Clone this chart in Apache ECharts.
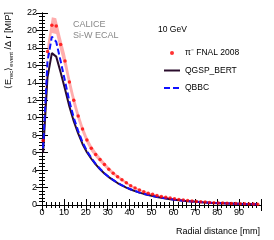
<!DOCTYPE html>
<html><head><meta charset="utf-8">
<script src="https://cdn.jsdelivr.net/npm/echarts@6/dist/echarts.min.js"></script>
<style>html,body{margin:0;padding:0;background:#fff}#c{width:274px;height:240px}</style>
</head><body><div id="c"></div>
<script>
// Radial distance bin centres [mm]
const radius = [0.5,2.5,4.5,6.5,8.5,10.5,12.5,14.5,16.5,18.5,20.5,22.5,24.5,26.5,28.5,30.5,32.5,34.5,36.5,38.5,40.5,42.5,44.5,46.5,48.5,50.5,52.5,54.5,56.5,58.5,60.5,62.5,64.5,66.5,68.5,70.5,72.5,74.5,76.5,78.5,80.5,82.5,84.5,86.5,88.5,90.5,92.5,94.5,96.5,98.5];
// pi- FNAL 2008 data
const dataFNAL = [7.4,17.6,20.6,20.5,18.4,16.5,14.1,12.0,10.2,8.7,7.45,6.5,5.8,5.2,4.65,4.1,3.65,3.25,2.9,2.55,2.2,1.95,1.72,1.52,1.36,1.22,1.09,0.98,0.9,0.8,0.72,0.64,0.57,0.51,0.46,0.41,0.37,0.33,0.3,0.27,0.24,0.22,0.2,0.18,0.16,0.15,0.13,0.12,0.11,0.1];
const errFNAL = [0.5,0.85,0.9,0.9,0.88,0.82,0.74,0.65,0.56,0.49,0.43,0.38,0.34,0.3,0.27,0.24,0.21,0.19,0.17,0.15,0.13,0.12,0.11,0.1,0.09,0.08,0.07,0.065,0.06,0.055,0.05,0.045,0.04,0.04,0.035,0.03,0.03,0.03,0.025,0.025,0.02,0.02,0.02,0.02,0.02,0.02,0.02,0.02,0.02,0.02];
// Geant4 physics lists
const qgspBert = [6.0,14.6,17.4,17.0,15.2,13.3,11.3,9.6,8.2,7.0,6.05,5.3,4.65,4.1,3.6,3.2,2.85,2.52,2.24,2.0,1.78,1.59,1.42,1.27,1.14,1.02,0.92,0.83,0.75,0.67,0.6,0.54,0.49,0.44,0.4,0.36,0.32,0.29,0.26,0.24,0.21,0.19,0.17,0.16,0.14,0.13,0.12,0.11,0.1,0.09];
const qbbc = [6.5,16.4,19.3,18.7,16.5,14.2,11.9,10.0,8.5,7.2,6.2,5.4,4.72,4.15,3.65,3.22,2.87,2.54,2.26,2.02,1.8,1.61,1.44,1.29,1.16,1.04,0.93,0.84,0.76,0.68,0.61,0.55,0.5,0.45,0.41,0.37,0.33,0.3,0.27,0.24,0.22,0.2,0.18,0.16,0.15,0.13,0.12,0.11,0.1,0.09];
const xTicks = [0,10,20,30,40,50,60,70,80,90];
const yTicks = [0,2,4,6,8,10,12,14,16,18,20,22];
const seriesNames = ['\u03c0\u207b FNAL 2008','QGSP_BERT','QBBC'];

const FONT = '"Liberation Sans", Arial, Helvetica, sans-serif';
const pair = (xs, ys) => xs.map((x, i) => [x, ys[i]]);

const tickCommon = {
  axisLine: {show: true, lineStyle: {color: '#000', width: 1}},
  axisTick: {show: true, inside: true, length: 6, lineStyle: {color: '#000'}},
  minorTick: {show: true, splitNumber: 5, length: 3, lineStyle: {color: '#000'}},
  splitLine: {show: false}, minorSplitLine: {show: false}
};

function renderBand(params, api) {
  if (params.dataIndex !== 0) return;
  const pts = [];
  for (let i = 0; i < radius.length; i++) pts.push(api.coord([radius[i], dataFNAL[i] + errFNAL[i]]));
  for (let i = radius.length - 1; i >= 0; i--) pts.push(api.coord([radius[i], dataFNAL[i] - errFNAL[i]]));
  return {type: 'polygon', shape: {points: pts}, style: {fill: 'rgba(255,60,60,0.42)'},
    clipPath: {type: 'rect', shape: {x: params.coordSys.x, y: params.coordSys.y,
      width: params.coordSys.width, height: params.coordSys.height}}};
}

const chart = echarts.init(document.getElementById('c'), null, {renderer: 'canvas'});
chart.setOption({
  animation: false,
  backgroundColor: '#fff',
  grid: {left: 42, right: 13, top: 13, bottom: 35},
  xAxis: [
    Object.assign({type: 'value', min: 0, max: 100, interval: 10, position: 'bottom',
      axisLabel: {fontFamily: FONT, fontSize: 9, color: '#000', margin: 3,
        formatter: v => xTicks.indexOf(v) >= 0 ? String(v) : ''}}, tickCommon),
    Object.assign({type: 'value', min: 0, max: 100, interval: 10, position: 'top',
      axisLabel: {show: false}}, tickCommon)
  ],
  yAxis: [
    Object.assign({type: 'value', min: 0, max: 22, interval: 2, position: 'left',
      axisLabel: {fontFamily: FONT, fontSize: 9, color: '#000', margin: 5,
        formatter: v => yTicks.indexOf(v) >= 0 ? String(v) : ''}}, tickCommon),
    Object.assign({type: 'value', min: 0, max: 22, interval: 2, position: 'right',
      axisLabel: {show: false}}, tickCommon)
  ],
  legend: {
    data: [
      {name: seriesNames[0]},
      {name: seriesNames[1], itemStyle: {opacity: 0}},
      {name: seriesNames[2], itemStyle: {opacity: 0}}
    ],
    orient: 'vertical', left: 158, top: 43,
    itemWidth: 16, itemHeight: 4, itemGap: 7.5,
    textStyle: {fontFamily: FONT, fontSize: 8.5, color: '#000', lineHeight: 10}
  },
  series: [
    {name: 'band', type: 'custom', renderItem: renderBand, data: [[radius[0], dataFNAL[0]]], silent: true, z: 1},
    {name: seriesNames[1], type: 'line', data: pair(radius, qgspBert), symbol: 'none', z: 2,
      lineStyle: {color: '#2a0c2c', width: 2}, itemStyle: {color: '#2a0c2c'}},
    {name: seriesNames[2], type: 'line', data: pair(radius, qbbc), symbol: 'none', z: 3,
      lineStyle: {color: '#1010ff', width: 2, type: [6, 3]}, itemStyle: {color: '#1010ff'}},
    {name: seriesNames[0], type: 'scatter', data: pair(radius, dataFNAL), symbol: 'circle', z: 4,
      symbolSize: 3.5, itemStyle: {color: '#ff0000'}}
  ],
  graphic: [
    {type: 'text', left: 73, top: 20, style: {text: 'CALICE', font: '9px ' + FONT, fill: '#888'}},
    {type: 'text', left: 73, top: 31, style: {text: 'Si-W ECAL', font: '9px ' + FONT, fill: '#888'}},
    {type: 'text', left: 158, top: 25, style: {text: '10 GeV', font: '8.5px ' + FONT, fill: '#000'}},
    {type: 'text', right: 14, top: 227, style: {text: 'Radial distance [mm]', font: '9px ' + FONT, fill: '#000'}},
    {type: 'text', x: 9, y: 12, rotation: Math.PI / 2,
      style: {text: '\u27e8E{sub|rec}\u27e9{sub|event} /\u0394 r [MIP]', textAlign: 'right', textVerticalAlign: 'middle',
        font: '9px ' + FONT, fill: '#000',
        rich: {sub: {fontSize: 6, fontFamily: FONT, verticalAlign: 'bottom', padding: [4, 0, 0, 0]}}}}
  ]
});
</script></body></html>
